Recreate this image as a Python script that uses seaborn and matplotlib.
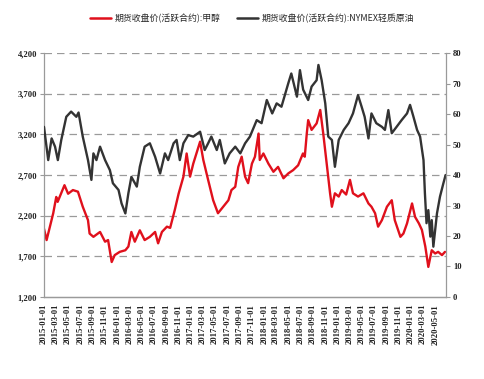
import matplotlib
matplotlib.use("Agg")
import matplotlib.pyplot as plt
import matplotlib.dates as mdates
from matplotlib.lines import Line2D
from matplotlib.ticker import FuncFormatter
import seaborn as sns
import pandas as pd

# 甲醇 期货收盘价 (左轴)
meoh_dates = [
    "2015-01-01", "2015-01-14", "2015-02-16", "2015-03-03", "2015-03-10", "2015-04-13",
    "2015-05-01", "2015-05-25", "2015-06-19", "2015-07-13", "2015-08-08", "2015-08-16",
    "2015-09-04", "2015-10-07", "2015-11-01", "2015-11-16", "2015-12-04", "2015-12-19",
    "2016-01-13", "2016-02-10", "2016-02-25", "2016-03-11", "2016-03-28", "2016-04-22",
    "2016-05-16", "2016-06-11", "2016-07-07", "2016-07-22", "2016-08-10", "2016-09-04",
    "2016-09-20", "2016-10-13", "2016-11-01", "2016-11-25", "2016-12-11", "2016-12-28",
    "2017-01-13", "2017-02-16", "2017-03-04", "2017-03-28", "2017-04-22", "2017-05-16",
    "2017-06-11", "2017-07-07", "2017-07-22", "2017-08-10", "2017-08-25", "2017-09-11",
    "2017-09-28", "2017-10-13", "2017-11-01", "2017-11-16", "2017-12-04", "2017-12-10",
    "2017-12-28", "2018-01-22", "2018-02-16", "2018-03-11", "2018-04-07", "2018-05-01",
    "2018-05-25", "2018-06-19", "2018-07-13", "2018-07-22", "2018-08-01", "2018-08-08",
    "2018-08-25", "2018-09-19", "2018-10-07", "2018-10-22", "2018-11-10", "2018-11-25",
    "2018-12-04", "2018-12-19", "2019-01-07", "2019-01-22", "2019-02-13", "2019-03-04",
    "2019-03-19", "2019-04-13", "2019-05-10", "2019-06-04", "2019-06-19", "2019-07-07",
    "2019-07-22", "2019-08-10", "2019-09-04", "2019-09-28", "2019-10-13", "2019-11-10",
    "2019-11-25", "2019-12-13", "2020-01-07", "2020-01-22", "2020-02-10", "2020-02-25",
    "2020-03-13", "2020-03-28", "2020-04-14", "2020-05-01", "2020-05-16", "2020-06-04",
    "2020-06-19",
]
meoh_close = [
    2040, 1900, 2230, 2430, 2370, 2575,
    2470, 2515, 2495, 2310, 2145, 1980,
    1940, 2000, 1880, 1900, 1630, 1715,
    1755, 1775, 1820, 2000, 1880, 2020,
    1900, 1940, 2000, 1860, 2000, 2065,
    2050, 2270, 2470, 2680, 2965, 2680,
    2840, 3110, 2885, 2640, 2390, 2230,
    2310, 2390, 2515, 2555, 2800, 2925,
    2680, 2600, 2840, 2925, 3210, 2885,
    2965, 2840, 2740, 2800, 2660, 2720,
    2760, 2820, 2965, 2925, 3210, 3375,
    3255, 3335, 3500, 3210, 2800, 2475,
    2310, 2475, 2435, 2515, 2460, 2640,
    2475, 2435, 2475, 2350, 2310, 2230,
    2065, 2145, 2310, 2390, 2145, 1940,
    1980, 2105, 2350, 2185, 2105, 2025,
    1820, 1570, 1775, 1735, 1755, 1715,
    1755,
]

# NYMEX 轻质原油 期货收盘价 (右轴)
wti_dates = [
    "2015-01-01", "2015-01-22", "2015-02-08", "2015-02-25", "2015-03-11", "2015-03-28",
    "2015-04-22", "2015-05-16", "2015-06-11", "2015-06-22", "2015-07-13", "2015-08-08",
    "2015-08-25", "2015-09-04", "2015-09-19", "2015-10-07", "2015-11-01", "2015-11-25",
    "2015-12-10", "2016-01-07", "2016-01-22", "2016-02-10", "2016-02-25", "2016-03-11",
    "2016-04-07", "2016-04-22", "2016-05-16", "2016-06-11", "2016-07-07", "2016-08-01",
    "2016-08-25", "2016-09-10", "2016-10-07", "2016-10-22", "2016-11-07", "2016-11-25",
    "2016-12-19", "2017-01-13", "2017-02-16", "2017-03-11", "2017-03-28", "2017-04-13",
    "2017-05-10", "2017-05-25", "2017-06-19", "2017-07-13", "2017-08-10", "2017-09-04",
    "2017-09-28", "2017-10-22", "2017-11-25", "2017-12-19", "2018-01-14", "2018-02-10",
    "2018-03-04", "2018-03-28", "2018-05-01", "2018-05-16", "2018-06-13", "2018-06-28",
    "2018-07-14", "2018-08-08", "2018-08-25", "2018-09-19", "2018-09-28", "2018-10-14",
    "2018-11-01", "2018-11-16", "2018-12-04", "2018-12-19", "2019-01-07", "2019-02-01",
    "2019-02-25", "2019-03-19", "2019-04-13", "2019-05-01", "2019-05-16", "2019-06-04",
    "2019-06-19", "2019-07-13", "2019-08-10", "2019-08-25", "2019-09-11", "2019-09-28",
    "2019-10-22", "2019-11-16", "2019-12-13", "2019-12-28", "2020-01-14", "2020-02-01",
    "2020-02-16", "2020-03-04", "2020-03-11", "2020-03-19", "2020-03-28", "2020-04-07",
    "2020-04-14", "2020-04-22", "2020-05-10", "2020-05-25", "2020-06-11", "2020-06-22",
]
wti_close = [
    55.8, 44.9, 52.0, 49.3, 44.9, 51.5,
    59.1, 60.8, 59.1, 60.5, 52.6, 44.9,
    38.4, 47.1, 44.9, 49.3, 44.9, 41.6,
    37.3, 35.1, 30.7, 27.4, 34.0, 39.4,
    36.2, 42.7, 49.3, 50.4, 46.0, 40.5,
    47.1, 44.9, 50.4, 51.5, 44.9, 50.4,
    53.1, 52.6, 54.2, 48.2, 50.4, 52.6,
    48.2, 51.5, 43.8, 47.1, 49.3, 47.1,
    50.4, 52.6, 58.0, 57.0, 64.6, 60.2,
    63.5, 62.4, 70.1, 73.3, 65.7, 74.4,
    68.0, 64.6, 69.0, 71.1, 76.1, 71.1,
    63.5, 52.6, 51.5, 42.7, 51.5, 54.8,
    57.0, 60.2, 66.2, 62.4, 59.1, 52.0,
    60.2, 57.0, 55.8, 54.8, 61.3, 53.7,
    55.8, 58.0, 60.2, 63.0, 59.1, 54.8,
    52.6, 44.9, 34.0, 24.2, 28.5, 19.8,
    25.2, 16.5, 27.4, 32.9, 37.3, 40.0,
]

meoh_label = "期货收盘价(活跃合约):甲醇"
wti_label = "期货收盘价(活跃合约):NYMEX轻质原油"
left_ticks = [1200, 1700, 2200, 2700, 3200, 3700, 4200]
right_ticks = [0, 10, 20, 30, 40, 50, 60, 70, 80]

red = "#e0101c"
dark = "#333333"
axis_gray = "#9a9a9a"

sns.set_style("white")
plt.rcParams["font.family"] = ["Liberation Serif", "Noto Sans CJK SC", "DejaVu Sans"]

df_m = pd.DataFrame({"date": pd.to_datetime(meoh_dates), "close": meoh_close})
df_w = pd.DataFrame({"date": pd.to_datetime(wti_dates), "close": wti_close})

fig = plt.figure(figsize=(4.85, 3.79), dpi=100)
ax = fig.add_axes([0.0907, 0.2164, 0.8289, 0.6436])
ax2 = ax.twinx()

sns.lineplot(data=df_m, x="date", y="close", ax=ax, color=red, lw=1.7)
sns.lineplot(data=df_w, x="date", y="close", ax=ax2, color=dark, lw=1.7)

ax.set_ylim(left_ticks[0], left_ticks[-1])
ax.set_yticks(left_ticks)
ax.yaxis.set_major_formatter(FuncFormatter(lambda v, p: f"{int(v):,}"))
ax2.set_ylim(right_ticks[0], right_ticks[-1])
ax2.set_yticks(right_ticks)

ax.set_xlim(pd.Timestamp("2015-01-01"), pd.Timestamp("2020-06-24"))
ax.xaxis.set_major_locator(mdates.MonthLocator(bymonth=[1, 3, 5, 7, 9, 11]))
ax.xaxis.set_major_formatter(mdates.DateFormatter("%Y-%m-%d"))
plt.setp(ax.get_xticklabels(), rotation=90, fontweight="bold")
plt.setp(ax.get_yticklabels(), fontweight="bold")
plt.setp(ax2.get_yticklabels(), fontweight="bold")

for g in left_ticks[1:]:
    ax.axhline(g, color=axis_gray, lw=0.9, ls=(0, (6, 4)), zorder=0)

for a in (ax, ax2):
    a.set_xlabel("")
    a.set_ylabel("")
    a.spines["top"].set_visible(False)
    for s in ("left", "right", "bottom"):
        a.spines[s].set_color(axis_gray)
        a.spines[s].set_linewidth(0.9)
    a.tick_params(axis="both", length=3, width=0.8, color=axis_gray,
                  labelsize=6.2, labelcolor="#222222", pad=2)

ax2.spines["left"].set_visible(False)
ax.spines["right"].set_visible(False)

handles = [Line2D([], [], color=red, lw=1.8), Line2D([], [], color=dark, lw=1.8)]
fig.legend(handles, [meoh_label, wti_label], loc="upper center",
           bbox_to_anchor=(0.52, 0.985), ncol=2, frameon=False,
           handlelength=2.4, columnspacing=1.8, handletextpad=0.4,
           prop={"family": ["Noto Sans CJK SC", "DejaVu Sans"], "size": 6.4})

fig.savefig("out.png", dpi=100)
